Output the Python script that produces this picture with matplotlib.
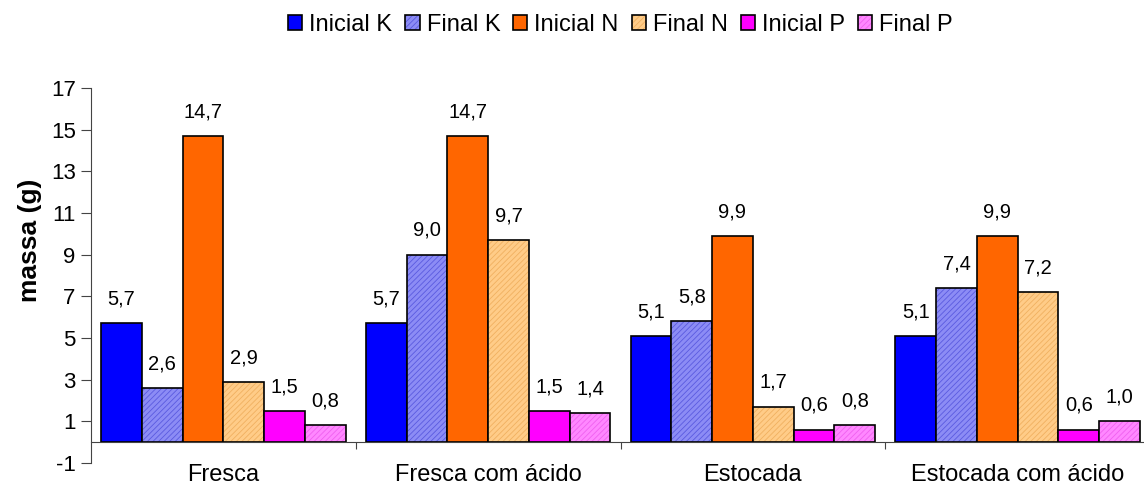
import numpy as np
import matplotlib
matplotlib.use('Agg')
import matplotlib.pyplot as plt

plt.rcParams['font.family'] = ['Liberation Sans', 'DejaVu Sans']
plt.rcParams['hatch.linewidth'] = 0.6
plt.rcParams['axes.unicode_minus'] = False

# ── Data ────────────────────────────────────────────────────────────────────
groups = ["Fresca", "Fresca com ácido", "Estocada", "Estocada com ácido"]
series = ["Inicial K", "Final K", "Inicial N", "Final N", "Inicial P", "Final P"]
inicial_k = [5.7, 5.7, 5.1, 5.1]
final_k = [2.6, 9.0, 5.8, 7.4]
inicial_n = [14.7, 14.7, 9.9, 9.9]
final_n = [2.9, 9.7, 1.7, 7.2]
inicial_p = [1.5, 1.5, 0.6, 0.6]
final_p = [0.8, 1.4, 0.8, 1.0]
yticks = [-1, 1, 3, 5, 7, 9, 11, 13, 15, 17]

values = [inicial_k, final_k, inicial_n, final_n, inicial_p, final_p]
faces = ["#0000FF", "#8C8CF5", "#FF6600", "#FFCC88", "#FF00FF", "#FF88FF"]
hatch_cols = [None, "#5A5AE0", None, "#F0B060", None, "#F060F0"]

fig = plt.figure(figsize=(11.44, 4.88), dpi=100)
ax = fig.add_axes([91 / 1144, 1 - 463 / 488, 1059 / 1144, 375 / 488])

x = np.arange(len(groups))
w = 0.154
for i, (name, vals) in enumerate(zip(series, values)):
    pos = x + (i - 2.5) * w
    bars = ax.bar(pos, vals, width=w, color=faces[i], edgecolor="black",
                  linewidth=1.2, label=name, zorder=2)
    if hatch_cols[i]:
        for b in bars:
            b.set_hatch("//////")
            b._hatch_color = matplotlib.colors.to_rgba(hatch_cols[i])
    for px, v in zip(pos, vals):
        ax.annotate(f"{v:.1f}".replace(".", ","), (px, v), xytext=(0, 13.5),
                    textcoords="offset points", ha="center", va="baseline",
                    fontsize=14.5)

ax.set_xlim(-0.5, 3.5)
ax.set_ylim(-1, 17)
ax.set_yticks(yticks)
ax.tick_params(axis="y", labelsize=16, length=7, width=0.8, color="#444444",
               pad=4)
ax.set_ylabel("massa (g)", fontsize=19, fontweight="bold")
ax.yaxis.set_label_coords(-0.046, 0.595)

# category axis sits on y=0, labels go below the plot area
ax.spines["bottom"].set_position(("data", 0))
ax.spines["top"].set_visible(False)
ax.spines["right"].set_visible(False)
ax.spines["left"].set_color("#444444")
ax.spines["bottom"].set_color("#444444")
ax.set_xticks([0.5, 1.5, 2.5])
ax.set_xticklabels([])
ax.tick_params(axis="x", direction="out", length=5, color="#444444")
for xi, g in zip(x, groups):
    ax.text(xi, -1.05, g, ha="center", va="top", fontsize=17, clip_on=False)

ax.legend(loc="center", bbox_to_anchor=(0.5, 1.168), ncol=6, frameon=False,
          fontsize=17, handlelength=0.6, handleheight=0.6,
          handletextpad=0.3, columnspacing=0.55)

fig.savefig("out.png", dpi=100)
